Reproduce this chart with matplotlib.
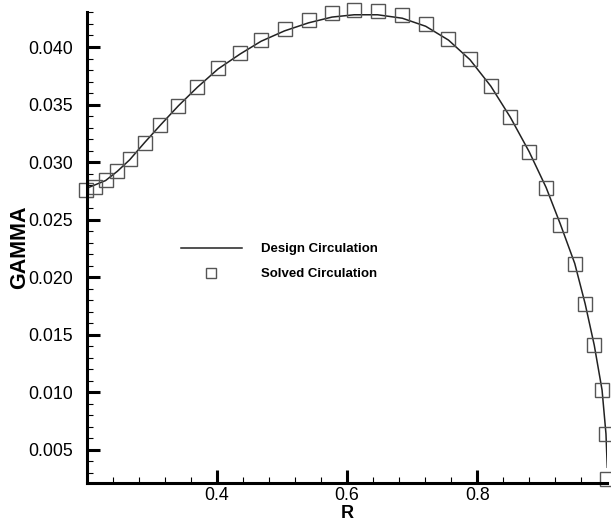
import numpy as np
import matplotlib
matplotlib.use("Agg")
import matplotlib.pyplot as plt
from matplotlib.ticker import FixedLocator

plt.rcParams['font.family'] = ['Liberation Sans', 'DejaVu Sans']

# design circulation (solid line)
r_design = [0.203, 0.229, 0.247, 0.266, 0.289, 0.313, 0.341, 0.370, 0.402,
            0.436, 0.468, 0.504, 0.541, 0.577, 0.611, 0.647, 0.685, 0.721,
            0.756, 0.789, 0.821, 0.851, 0.880, 0.906, 0.928, 0.950, 0.966,
            0.980, 0.992, 0.998, 1.000]
gamma_design = [0.0278, 0.0284, 0.0292, 0.0302, 0.0317, 0.0332, 0.0349,
                0.0365, 0.0381, 0.0394, 0.0405, 0.0414, 0.0421, 0.0426,
                0.0428, 0.0428, 0.0425, 0.0418, 0.0406, 0.0389, 0.0366,
                0.0339, 0.0309, 0.0278, 0.0246, 0.0212, 0.0177, 0.0141,
                0.0102, 0.0064, 0.0035]

# solved circulation (square markers)
r_solved = [0.199, 0.212, 0.229, 0.247, 0.266, 0.289, 0.313, 0.341, 0.370,
            0.402, 0.436, 0.468, 0.504, 0.541, 0.577, 0.611, 0.647, 0.685,
            0.721, 0.756, 0.789, 0.821, 0.851, 0.880, 0.906, 0.928, 0.950,
            0.966, 0.980, 0.992, 0.998, 0.9995]
gamma_solved = [0.02758, 0.02784, 0.02845, 0.02926, 0.03027, 0.03169,
                0.03320, 0.03488, 0.03655, 0.03815, 0.03945, 0.04061,
                0.04156, 0.04234, 0.04298, 0.04321, 0.04315, 0.04278,
                0.04197, 0.04069, 0.03896, 0.03664, 0.03389, 0.03085,
                0.02773, 0.02454, 0.02115, 0.01768, 0.01412, 0.01021,
                0.00639, 0.00246]

x_major = [0.4, 0.6, 0.8]
y_major = [0.005, 0.010, 0.015, 0.020, 0.025, 0.030, 0.035, 0.040]

fig = plt.figure(figsize=(6.11, 5.22), dpi=100)
ax = fig.add_axes([0.1419, 0.0747, 0.852, 0.9023])

ax.plot(r_design, gamma_design, color='#222222', lw=1.1,
        label='Design Circulation')
ax.plot(r_solved, gamma_solved, ls='none', marker='s', ms=9.5,
        mfc='none', mec='#555555', mew=1.0, label='Solved Circulation',
        clip_on=False)

ax.set_xlim(0.2, 1.0)
ax.set_ylim(0.00213, 0.04304)

ax.xaxis.set_major_locator(FixedLocator(x_major))
ax.xaxis.set_minor_locator(FixedLocator(
    [v for v in np.arange(0.24, 1.0, 0.04) if min(abs(v - m) for m in x_major) > 1e-6]))
ax.yaxis.set_major_locator(FixedLocator(y_major))
ax.yaxis.set_minor_locator(FixedLocator(
    [v for v in np.arange(0.003, 0.0431, 0.001) if min(abs(v - m) for m in y_major) > 1e-6]))
ax.set_xticklabels(['0.4', '0.6', '0.8'])
ax.set_yticklabels(['%.3f' % v for v in y_major])

ax.tick_params(which='major', direction='in', length=9.5, width=2.2,
               labelsize=12.8, color='black')
ax.tick_params(which='minor', direction='in', length=4.5, width=0.8)
ax.tick_params(axis='y', which='major', pad=10)
ax.tick_params(axis='x', which='major', pad=3)

for s in ['top', 'right']:
    ax.spines[s].set_visible(False)
for s in ['left', 'bottom']:
    ax.spines[s].set_linewidth(2.2)

ax.set_xlabel('R', fontsize=13, fontweight='bold', labelpad=0.3)
ax.set_ylabel('GAMMA', fontsize=15.5, fontweight='bold', labelpad=-1.5)

leg = ax.legend(loc='center left', bbox_to_anchor=(0.158, 0.47),
                frameon=False, handlelength=4.6, handletextpad=1.5,
                labelspacing=0.95, markerscale=0.75,
                prop={'weight': 'bold', 'size': 9.5})

fig.savefig('out.png', dpi=100)
